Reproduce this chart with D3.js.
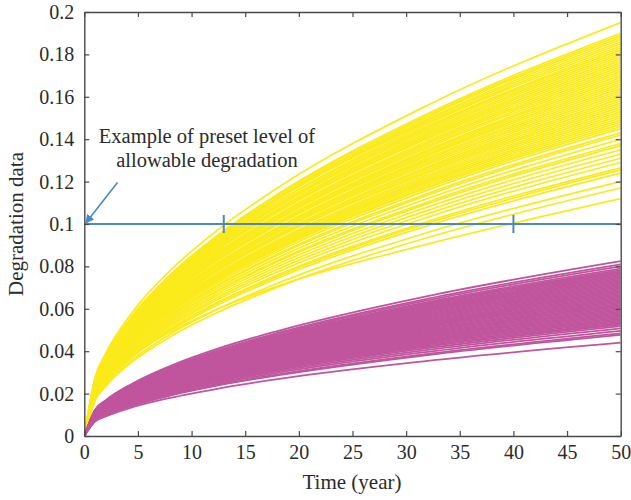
<!DOCTYPE html>
<html>
<head>
<meta charset="utf-8">
<script src="https://cdn.jsdelivr.net/npm/d3@7"></script>
<style>
  html, body { margin: 0; padding: 0; background: #fff; }
  svg { display: block; font-family: "Liberation Serif", "DejaVu Serif", serif; }
</style>
</head>
<body>
<svg id="chart" width="631" height="500"></svg>
<script>
// ---- data ----
const times = [0, 1, 2, 4.5, 8, 12.5, 18, 32, 50];      // years at which each path is sampled
const xTicks = [0, 5, 10, 15, 20, 25, 30, 35, 40, 45, 50];
const xTickLabels = ["0","5","10","15","20","25","30","35","40","45","50"];
const yTicks = [0, 0.02, 0.04, 0.06, 0.08, 0.1, 0.12, 0.14, 0.16, 0.18, 0.2];
const yTickLabels = ["0","0.02","0.04","0.06","0.08","0.1","0.12","0.14","0.16","0.18","0.2"];
const presetLevel = 0.1;
const crossingTimes = [13, 40];
const annotationLines = ["Example of preset level of", "allowable degradation"];
const xLabel = "Time (year)";
const yLabel = "Degradation data";

// degradation paths of the faster-degrading group (yellow)
const yellowPaths = [
  [0, .0276, .0390, .0585, .0780, .0975, .1170, .1560, .195],
  [0, .0269, .0380, .0570, .0760, .0950, .1140, .1520, .190],
  [0, .0267, .0378, .0567, .0756, .0945, .1134, .1512, .189],
  [0, .0262, .0373, .0558, .0748, .0937, .1125, .1505, .188],
  [0, .0264, .0374, .0561, .0748, .0935, .1122, .1496, .187],
  [0, .0263, .0372, .0558, .0744, .0930, .1116, .1488, .186],
  [0, .0262, .0370, .0555, .0740, .0927, .1115, .1480, .185],
  [0, .0260, .0368, .0552, .0736, .0920, .1104, .1472, .184],
  [0, .0265, .0374, .0556, .0738, .0918, .1102, .1462, .183],
  [0, .0257, .0364, .0546, .0728, .0910, .1092, .1456, .182],
  [0, .0256, .0362, .0543, .0724, .0905, .1086, .1448, .181],
  [0, .0255, .0360, .0540, .0720, .0900, .1080, .1440, .180],
  [0, .0248, .0352, .0530, .0710, .0892, .1070, .1432, .179],
  [0, .0252, .0356, .0534, .0712, .0890, .1068, .1424, .178],
  [0, .0250, .0354, .0531, .0708, .0885, .1062, .1416, .177],
  [0, .0249, .0352, .0528, .0704, .0880, .1056, .1408, .176],
  [0, .0252, .0357, .0532, .0706, .0881, .1055, .1402, .175],
  [0, .0246, .0348, .0522, .0696, .0870, .1044, .1392, .174],
  [0, .0245, .0346, .0519, .0692, .0865, .1038, .1384, .173],
  [0, .0243, .0344, .0516, .0688, .0860, .1032, .1376, .172],
  [0, .0242, .0342, .0513, .0684, .0855, .1026, .1368, .171],
  [0, .0240, .0340, .0510, .0680, .0850, .1020, .1360, .170],
  [0, .0233, .0333, .0500, .0670, .0842, .1010, .1350, .169],
  [0, .0238, .0336, .0504, .0672, .0840, .1008, .1344, .168],
  [0, .0236, .0334, .0501, .0668, .0835, .1002, .1336, .167],
  [0, .0235, .0332, .0498, .0664, .0830, .0996, .1328, .166],
  [0, .0240, .0338, .0505, .0668, .0833, .0996, .1322, .165],
  [0, .0232, .0328, .0492, .0656, .0820, .0984, .1312, .164],
  [0, .0230, .0326, .0489, .0652, .0815, .0978, .1304, .163],
  [0, .0229, .0324, .0486, .0648, .0810, .0972, .1296, .162],
  [0, .0228, .0322, .0483, .0644, .0805, .0966, .1288, .161],
  [0, .0226, .0320, .0480, .0640, .0800, .0960, .1280, .160],
  [0, .0220, .0313, .0470, .0630, .0792, .0950, .1270, .159],
  [0, .0223, .0316, .0474, .0632, .0790, .0948, .1264, .158],
  [0, .0222, .0314, .0471, .0628, .0785, .0942, .1256, .157],
  [0, .0221, .0312, .0468, .0624, .0780, .0936, .1248, .156],
  [0, .0226, .0318, .0474, .0628, .0782, .0936, .1242, .155],
  [0, .0218, .0308, .0462, .0616, .0770, .0924, .1232, .154],
  [0, .0216, .0306, .0459, .0612, .0765, .0918, .1224, .153],
  [0, .0215, .0304, .0456, .0608, .0760, .0912, .1216, .152],
  [0, .0214, .0302, .0453, .0604, .0755, .0906, .1208, .151],
  [0, .0212, .0300, .0450, .0600, .0750, .0900, .1200, .150],
  [0, .0211, .0298, .0447, .0596, .0745, .0894, .1192, .149],
  [0, .0209, .0296, .0444, .0592, .0740, .0888, .1184, .148],
  [0, .0208, .0294, .0441, .0588, .0735, .0882, .1176, .147],
  [0, .0213, .0300, .0446, .0590, .0735, .0880, .1170, .146],
  [0, .0205, .0290, .0435, .0580, .0725, .0870, .1160, .145],
  [0, .0202, .0286, .0429, .0572, .0715, .0858, .1144, .143],
  [0, .0201, .0284, .0426, .0568, .0710, .0852, .1136, .142],
  [0, .0198, .0280, .0420, .0560, .0700, .0840, .1120, .140],
  [0, .0195, .0276, .0414, .0552, .0690, .0828, .1104, .138],
  [0, .0194, .0274, .0411, .0548, .0685, .0822, .1096, .137],
  [0, .0191, .0270, .0405, .0540, .0675, .0810, .1080, .135],
  [0, .0188, .0266, .0399, .0532, .0665, .0798, .1064, .133],
  [0, .0185, .0262, .0393, .0524, .0655, .0786, .1048, .131],
  [0, .0182, .0258, .0387, .0516, .0645, .0774, .1032, .129],
  [0, .0179, .0253, .0380, .0506, .0633, .0759, .1012, .1265],
  [0, .0177, .0251, .0377, .0502, .0628, .0753, .1004, .1255],
  [0, .0175, .0248, .0372, .0496, .0620, .0744, .0992, .124],
  [0, .0170, .0240, .0360, .0480, .0600, .0720, .0960, .120],
  [0, .0165, .0234, .0351, .0468, .0585, .0702, .0936, .117],
  [0, .0193, .0264, .0379, .0490, .0600, .0707, .0905, .112]
];

// degradation paths of the slower-degrading group (magenta)
const magentaPaths = [
  [0, .0124, .0169, .0248, .0330, .0413, .0495, .0660, .0825],
  [0, .0122, .0166, .0243, .0324, .0405, .0486, .0648, .0810],
  [0, .0120, .0164, .0240, .0320, .0400, .0480, .0640, .0800],
  [0, .0119, .0162, .0237, .0316, .0395, .0474, .0632, .0790],
  [0, .0117, .0161, .0235, .0313, .0392, .0470, .0626, .0783],
  [0, .0116, .0159, .0233, .0310, .0388, .0466, .0621, .0776],
  [0, .0116, .0158, .0231, .0308, .0385, .0462, .0616, .0770],
  [0, .0114, .0156, .0229, .0305, .0382, .0458, .0610, .0763],
  [0, .0113, .0155, .0227, .0302, .0378, .0454, .0605, .0756],
  [0, .0113, .0154, .0225, .0300, .0375, .0450, .0600, .0750],
  [0, .0112, .0153, .0223, .0298, .0372, .0446, .0595, .0744],
  [0, .0111, .0151, .0221, .0295, .0369, .0443, .0590, .0738],
  [0, .0110, .0150, .0220, .0293, .0366, .0439, .0586, .0732],
  [0, .0109, .0149, .0218, .0290, .0363, .0436, .0581, .0726],
  [0, .0108, .0148, .0216, .0288, .0360, .0432, .0576, .0720],
  [0, .0107, .0146, .0214, .0286, .0357, .0428, .0571, .0714],
  [0, .0106, .0145, .0212, .0283, .0354, .0425, .0566, .0708],
  [0, .0105, .0144, .0211, .0281, .0351, .0421, .0562, .0702],
  [0, .0104, .0143, .0209, .0278, .0348, .0418, .0557, .0696],
  [0, .0104, .0141, .0207, .0276, .0345, .0414, .0552, .0690],
  [0, .0103, .0140, .0205, .0274, .0342, .0410, .0547, .0684],
  [0, .0102, .0139, .0203, .0271, .0339, .0407, .0542, .0678],
  [0, .0101, .0138, .0202, .0269, .0336, .0403, .0538, .0672],
  [0, .0100, .0137, .0200, .0266, .0333, .0400, .0533, .0666],
  [0, .0099, .0135, .0198, .0264, .0330, .0396, .0528, .0660],
  [0, .0098, .0134, .0196, .0262, .0327, .0392, .0523, .0654],
  [0, .0097, .0133, .0194, .0259, .0324, .0389, .0518, .0648],
  [0, .0096, .0132, .0193, .0257, .0321, .0385, .0514, .0642],
  [0, .0095, .0130, .0191, .0254, .0318, .0382, .0509, .0636],
  [0, .0095, .0129, .0189, .0252, .0315, .0378, .0504, .0630],
  [0, .0094, .0128, .0187, .0250, .0312, .0374, .0499, .0624],
  [0, .0093, .0127, .0185, .0247, .0309, .0371, .0494, .0618],
  [0, .0092, .0125, .0184, .0245, .0306, .0367, .0490, .0612],
  [0, .0091, .0124, .0182, .0242, .0303, .0364, .0485, .0606],
  [0, .0090, .0123, .0180, .0240, .0300, .0360, .0480, .0600],
  [0, .0089, .0122, .0178, .0238, .0297, .0356, .0475, .0594],
  [0, .0088, .0121, .0176, .0235, .0294, .0353, .0470, .0588],
  [0, .0087, .0119, .0175, .0233, .0291, .0349, .0466, .0582],
  [0, .0086, .0118, .0173, .0230, .0288, .0346, .0461, .0576],
  [0, .0086, .0117, .0171, .0228, .0285, .0342, .0456, .0570],
  [0, .0085, .0116, .0169, .0226, .0282, .0338, .0451, .0564],
  [0, .0084, .0114, .0167, .0223, .0279, .0335, .0446, .0558],
  [0, .0083, .0113, .0166, .0221, .0276, .0331, .0442, .0552],
  [0, .0082, .0112, .0164, .0218, .0273, .0328, .0437, .0546],
  [0, .0081, .0111, .0162, .0216, .0270, .0324, .0432, .0540],
  [0, .0080, .0109, .0160, .0213, .0267, .0320, .0426, .0533],
  [0, .0079, .0108, .0158, .0210, .0263, .0316, .0421, .0526],
  [0, .0078, .0106, .0155, .0207, .0259, .0311, .0414, .0518],
  [0, .0076, .0104, .0152, .0203, .0254, .0305, .0406, .0508],
  [0, .0074, .0102, .0149, .0198, .0248, .0298, .0397, .0496],
  [0, .0073, .0099, .0145, .0194, .0242, .0290, .0387, .0484],
  [0, .0072, .0098, .0143, .0191, .0239, .0286, .0382, .0477],
  [0, .0068, .0092, .0136, .0180, .0224, .0268, .0354, .0440]
];

// ---- drawing ----
const svg = d3.select("#chart");
const plot = { left: 84.3, right: 620.7, top: 12, bottom: 436 };
const x = d3.scaleLinear().domain([0, 50]).range([plot.left, plot.right]);
const y = d3.scaleLinear().domain([0, 0.2]).range([plot.bottom, plot.top]);

const textColor = "#2b2b2b";
const axisColor = "#4a4a4a";
const blue = "#4a88c6";
const fontSize = 20;

const line = d3.line()
  .x((d, i) => x(times[i]))
  .y(d => y(d))
  .curve(d3.curveMonotoneX);

svg.append("clipPath").attr("id", "clip")
  .append("rect").attr("x", plot.left).attr("y", plot.top)
  .attr("width", plot.right - plot.left).attr("height", plot.bottom - plot.top);

const g = svg.append("g").attr("clip-path", "url(#clip)");

g.selectAll("path.yellow").data(yellowPaths).join("path")
  .attr("class", "yellow")
  .attr("d", line)
  .attr("fill", "none")
  .attr("stroke", "#fbea1a")
  .attr("stroke-width", 1.7);

g.selectAll("path.magenta").data(magentaPaths).join("path")
  .attr("class", "magenta")
  .attr("d", line)
  .attr("fill", "none")
  .attr("stroke", "#c0559d")
  .attr("stroke-width", 1.8);

// preset level line with crossing markers
svg.append("line")
  .attr("x1", x(0)).attr("x2", x(50))
  .attr("y1", y(presetLevel)).attr("y2", y(presetLevel))
  .attr("stroke", blue).attr("stroke-width", 2);

svg.selectAll("line.cross").data(crossingTimes).join("line")
  .attr("class", "cross")
  .attr("x1", d => x(d)).attr("x2", d => x(d))
  .attr("y1", y(presetLevel) - 9).attr("y2", y(presetLevel) + 9)
  .attr("stroke", blue).attr("stroke-width", 2);

// axes
function styleAxis(sel) {
  sel.select(".domain").attr("stroke", axisColor).attr("stroke-width", 1.4);
  sel.selectAll(".tick line").attr("stroke", axisColor).attr("stroke-width", 1.2);
  sel.selectAll(".tick text").attr("fill", textColor).attr("font-size", fontSize)
    .attr("font-family", "Liberation Serif, DejaVu Serif, serif");
}

svg.append("g")
  .attr("transform", `translate(0,${plot.bottom})`)
  .call(d3.axisBottom(x).tickValues(xTicks).tickFormat((d, i) => xTickLabels[i])
        .tickSizeInner(-5).tickSizeOuter(0).tickPadding(9))
  .call(styleAxis);

svg.append("g")
  .attr("transform", `translate(0,${plot.top})`)
  .call(d3.axisTop(x).tickValues(xTicks).tickFormat("")
        .tickSizeInner(-5).tickSizeOuter(0))
  .call(styleAxis);

svg.append("g")
  .attr("transform", `translate(${plot.left},0)`)
  .call(d3.axisLeft(y).tickValues(yTicks).tickFormat((d, i) => yTickLabels[i])
        .tickSizeInner(-5).tickSizeOuter(0).tickPadding(10))
  .call(styleAxis);

svg.append("g")
  .attr("transform", `translate(${plot.right},0)`)
  .call(d3.axisRight(y).tickValues(yTicks).tickFormat("")
        .tickSizeInner(-5).tickSizeOuter(0))
  .call(styleAxis);

// axis titles
svg.append("text")
  .attr("x", 352).attr("y", 489)
  .attr("text-anchor", "middle")
  .attr("font-size", 21).attr("fill", textColor)
  .text(xLabel);

svg.append("text")
  .attr("transform", `translate(23,${(plot.top + plot.bottom) / 2}) rotate(-90)`)
  .attr("text-anchor", "middle")
  .attr("font-size", 21).attr("fill", textColor)
  .text(yLabel);

// annotation
svg.append("text")
  .attr("x", 207).attr("y", 143)
  .attr("text-anchor", "middle")
  .attr("font-size", 20.5).attr("fill", textColor)
  .selectAll("tspan").data(annotationLines).join("tspan")
  .attr("x", 207).attr("dy", (d, i) => i === 0 ? 0 : 24)
  .text(d => d);

svg.append("defs").append("marker")
  .attr("id", "arrow").attr("viewBox", "0 0 10 10")
  .attr("refX", 9).attr("refY", 5)
  .attr("markerWidth", 9).attr("markerHeight", 9)
  .attr("markerUnits", "userSpaceOnUse")
  .attr("orient", "auto")
  .append("path").attr("d", "M0,0 L10,5 L0,10 z").attr("fill", blue);

svg.append("line")
  .attr("x1", 117.5).attr("y1", 182.5)
  .attr("x2", x(0) + 1.5).attr("y2", y(presetLevel) - 1)
  .attr("stroke", blue).attr("stroke-width", 1.6)
  .attr("marker-end", "url(#arrow)");
</script>
</body>
</html>
